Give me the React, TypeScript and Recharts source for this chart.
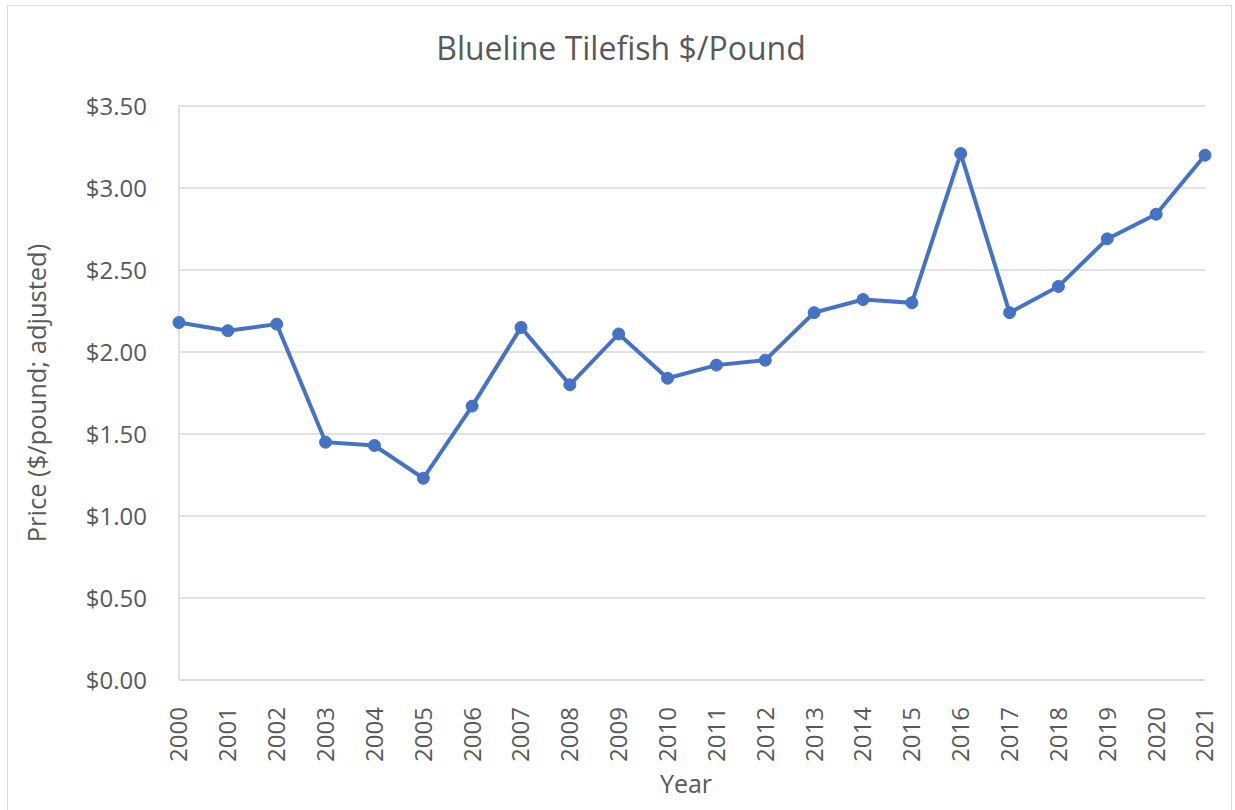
import React from "react";
import { LineChart, Line, XAxis, YAxis, CartesianGrid, Label } from "recharts";

const YEARS = [
  "2000", "2001", "2002", "2003", "2004", "2005", "2006", "2007", "2008", "2009", "2010",
  "2011", "2012", "2013", "2014", "2015", "2016", "2017", "2018", "2019", "2020", "2021",
];
const PRICES = [
  2.18, 2.13, 2.17, 1.45, 1.43, 1.23, 1.67, 2.15, 1.80, 2.11, 1.84,
  1.92, 1.95, 2.24, 2.32, 2.30, 3.21, 2.24, 2.40, 2.69, 2.84, 3.20,
];
const Y_TICKS = [0, 0.5, 1, 1.5, 2, 2.5, 3, 3.5];

const data = YEARS.map((year, i) => ({ year, price: PRICES[i] }));

const FONT = "'Open Sans', sans-serif";
const TEXT = "#595959";
const GRID = "#D9D9D9";
const BLUE = "#4472C4";

// rotated year labels, reading bottom-to-top like Excel
const YearTick = (props: any) => {
  const { x, y, payload } = props;
  return (
    <text
      x={x}
      y={y + 19}
      transform={`rotate(-90, ${x}, ${y + 19})`}
      textAnchor="end"
      dy="0.35em"
      fill={TEXT}
      fontSize={24}
      fontFamily={FONT}
    >
      {payload.value}
    </text>
  );
};

export default function App() {
  return (
    <div style={{ position: "absolute", left: 0, top: 0, width: 1235, height: 810, background: "#fff" }}>
      <div
        style={{
          position: "absolute", left: 7, top: 5, width: 1225, height: 810,
          border: `1px solid ${GRID}`, boxSizing: "border-box",
        }}
      />
      <div
        style={{
          position: "absolute", left: 0, top: 26, width: 1242, textAlign: "center",
          fontFamily: FONT, fontSize: 32, color: TEXT,
        }}
      >
        Blueline Tilefish $/Pound
      </div>
      <div style={{ position: "absolute", left: 0, top: 0 }}>
        <LineChart
          width={1235}
          height={810}
          data={data}
          margin={{ top: 106, right: 30, left: 0, bottom: 0 }}
        >
          <CartesianGrid vertical={false} stroke={GRID} strokeWidth={1.5} />
          <XAxis
            dataKey="year"
            interval={0}
            height={130}
            tick={<YearTick />}
            tickLine={false}
            axisLine={{ stroke: GRID, strokeWidth: 1.5 }}
          >
            <Label
              value="Year"
              position="insideBottom"
              offset={17}
              dx={-6}
              fill={TEXT}
              fontSize={25}
              fontFamily={FONT}
            />
          </XAxis>
          <YAxis
            domain={[0, 3.5]}
            ticks={Y_TICKS}
            width={179}
            tickLine={false}
            tickMargin={26}
            axisLine={{ stroke: GRID, strokeWidth: 1.5 }}
            tickFormatter={(v: number) => `$${v.toFixed(2)}`}
            tick={{ fill: TEXT, fontSize: 24, fontFamily: FONT }}
          >
            <Label
              value="Price ($/pound; adjusted)"
              angle={-90}
              position="insideLeft"
              offset={37}
              style={{ textAnchor: "middle" }}
              fill={TEXT}
              fontSize={25.5}
              fontFamily={FONT}
            />
          </YAxis>
          <Line
            type="linear"
            dataKey="price"
            stroke={BLUE}
            strokeWidth={4}
            dot={{ r: 6, fill: BLUE, stroke: BLUE, strokeWidth: 1 }}
            isAnimationActive={false}
          />
        </LineChart>
      </div>
    </div>
  );
}
